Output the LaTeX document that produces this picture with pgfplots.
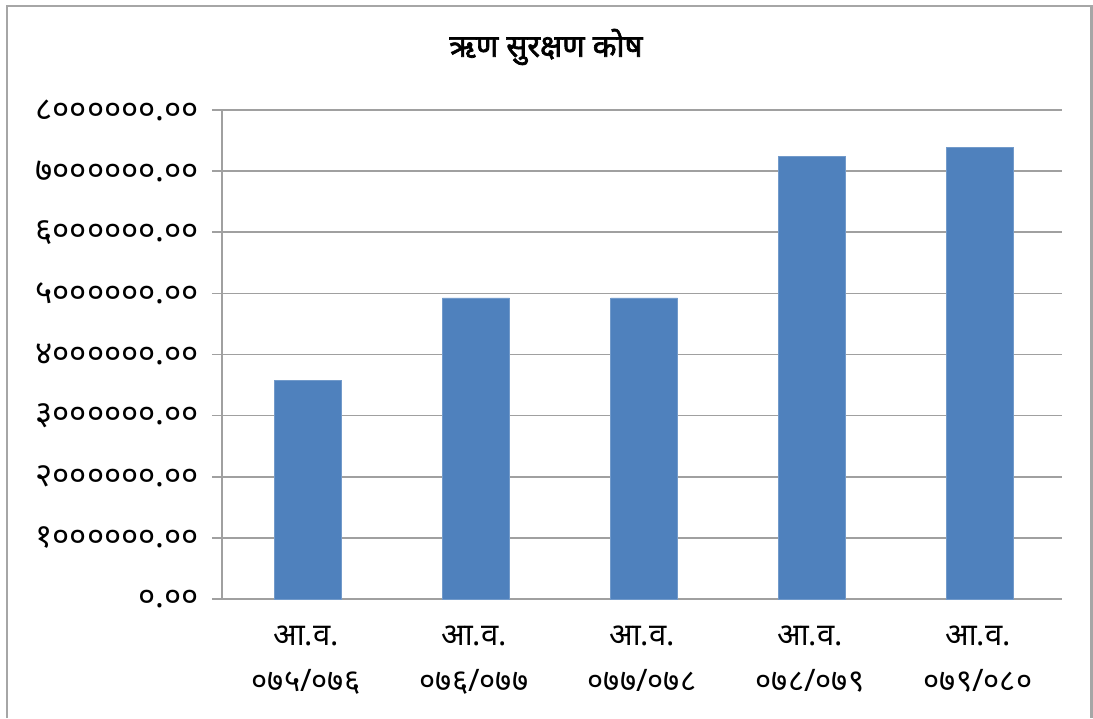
\documentclass[border=0pt]{standalone}
\usepackage{pgfplots}
\pgfplotsset{compat=1.18}
\usepackage{fontspec}
\newfontfamily\deva[Script=Devanagari]{Noto Sans}
\newfontfamily\devab[Script=Devanagari,FakeBold=2.2]{Noto Sans}
\definecolor{barblue}{HTML}{4F81BD}
\definecolor{gridgray}{HTML}{A0A0A0}
\definecolor{framegray}{HTML}{A6A6A6}
\begin{document}
\begin{tikzpicture}
\useasboundingbox (0,0) rectangle (546.5pt,359pt);
\draw[framegray,line width=1.2pt] (3.5pt,0) -- (3.5pt,356pt) -- (545.8pt,356pt) -- (545.8pt,0);
\node[font=\devab\fontsize{15.5}{18}\selectfont] at (273pt,335.5pt) {ऋण सुरक्षण कोष};
\begin{axis}[
  at={(111pt,59.5pt)}, anchor=south west,
  scale only axis, width=420pt, height=244.5pt,
  xmin=-0.5, xmax=4.5, ymin=0, ymax=8000000,
  axis x line*=bottom, axis y line*=left,
  axis line style={gridgray, line width=0.8pt},
  ymajorgrids, grid style={gridgray, line width=0.8pt},
  scaled y ticks=false,
  ytick={0,1000000,2000000,3000000,4000000,5000000,6000000,7000000,8000000},
  yticklabels={०.००,१००००००.००,२००००००.००,३००००००.००,४००००००.००,५००००००.००,६००००००.००,७००००००.००,८००००००.००},
  yticklabel style={font=\deva\fontsize{16.5}{18}\selectfont, xshift=-3pt},
  ytick style={gridgray, line width=0.8pt},
  tick align=outside, major tick length=5pt,
  xtick={0,1,2,3,4},
  xticklabels={{आ.व.\\०७५/०७६},{आ.व.\\०७६/०७७},{आ.व.\\०७७/०७८},{आ.व.\\०७८/०७९},{आ.व.\\०७९/०८०}},
  xticklabel style={font=\deva\fontsize{15.5}{23}\selectfont, align=center, yshift=-5pt},
  x tick style={draw=none},
  extra x ticks={-0.5,0.5,1.5,2.5,3.5,4.5},
  extra x tick labels={},
  extra x tick style={grid=none, tick style={draw=gridgray, line width=0.8pt}, major tick length=4pt},
  clip=false,
]
\addplot[ybar, bar width=33.5pt, fill=barblue, draw=barblue!80!white, bar shift=1pt]
  coordinates {(0,3580000) (1,4926000) (2,4926000) (3,7240000) (4,7390000)};
\end{axis}
\end{tikzpicture}
\end{document}
